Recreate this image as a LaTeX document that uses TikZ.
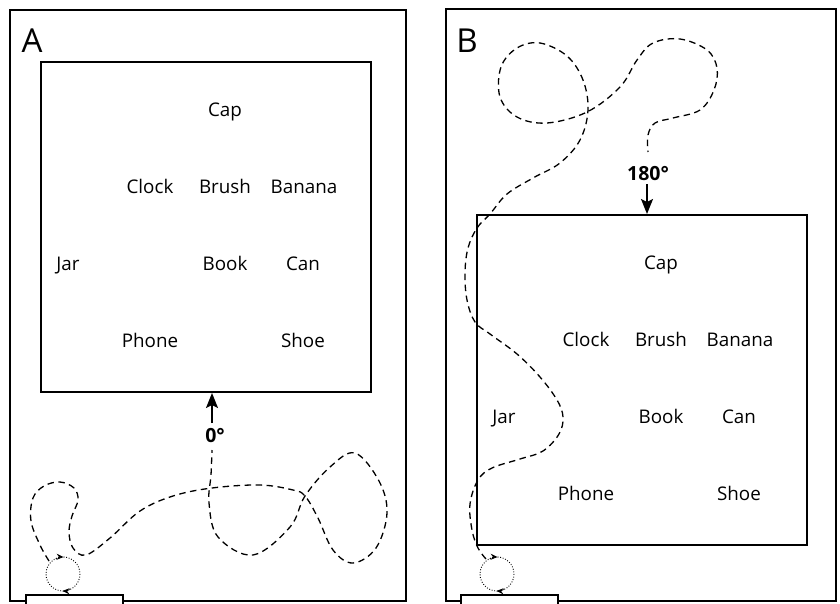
\documentclass[tikz,border=0pt]{standalone}
\usepackage{fontspec}
\setmainfont{Open Sans}
\usetikzlibrary{arrows.meta}
\begin{document}
\begin{tikzpicture}[x=1pt,y=-1pt,
  frame/.style={line width=1.1pt},
  lbl/.style={font=\fontsize{18.8}{21}\selectfont, anchor=base, inner sep=0pt},
  deglbl/.style={font=\fontsize{19.5}{21}\selectfont\bfseries, anchor=base, inner sep=0pt},
  panellbl/.style={font=\fontsize{33}{36}\selectfont, anchor=base, inner sep=0pt},
  walk/.style={line width=1.3pt, dash pattern=on 6.5pt off 4.5pt},
  loopc/.style={line width=0.9pt, dash pattern=on 0.9pt off 1.7pt},
  looptip/.style={-{Stealth[length=7pt,width=6pt]}, line width=0.9pt, dash pattern=on 0.9pt off 1.7pt},
  bigarrow/.style={-{Stealth[length=15pt,width=12pt,inset=3pt]}, line width=1.6pt}]
\useasboundingbox (0,0) rectangle (840,603);

% ---------- Panel A ----------
\draw[frame] (10,10) rectangle (406,601);
\fill[white] (26,595) rectangle (123,604);
\draw[frame] (26,604) -- (26,595) -- (123,595) -- (123,604);
\draw[frame] (41,62) rectangle (371,392);
\node[panellbl] (labA) at (32,52) {A};

\node[lbl] (capA)    at (225,116) {Cap};
\node[lbl] (clockA)  at (150,193) {Clock};
\node[lbl] (brushA)  at (225,193) {Brush};
\node[lbl] (bananaA) at (304,193) {Banana};
\node[lbl] (jarA)    at (68,270) {Jar};
\node[lbl] (bookA)   at (225,270) {Book};
\node[lbl] (canA)    at (303,270) {Can};
\node[lbl] (phoneA)  at (150,347) {Phone};
\node[lbl] (shoeA)   at (303,347) {Shoe};

\node[deglbl] (degA) at (215,442) {0°};
\coordinate (tailA) at (212,423);
\coordinate (tipA) at (212,393);
\draw[bigarrow] (tailA) -- (tipA);

\coordinate (loopA) at (63,574);
\draw[loopc] (loopA) circle (17);
\draw[looptip] (loopA) ++(245:17) arc (245:272:17);
\draw[looptip] (loopA) ++(65:17) arc (65:92:17);

\draw[walk] plot[smooth, tension=0.6] coordinates {
 (49,561) (40,545) (31,521) (33,498) (44,486) (60,482) (74,488) (78,500)
 (72,516) (69,532) (73,548) (86,555) (110,538) (140,511) (173,496) (212,488)
 (260,485) (293,490) (305,496) (318,518) (333,550) (353,563) (376,548) (387,513)
 (379,481) (355,453) (330,467) (305,496) (290,527) (253,555) (218,537) (209,503)
 (211,475) (212,450)};

% ---------- Panel B ----------
\draw[frame] (446,9) rectangle (836,601);
\fill[white] (461,595) rectangle (558,604);
\draw[frame] (461,604) -- (461,595) -- (558,595) -- (558,604);
\draw[frame] (477,215) rectangle (807,545);
\node[panellbl] (labB) at (467,52) {B};

\node[lbl] (capB)    at (661,269) {Cap};
\node[lbl] (clockB)  at (586,346) {Clock};
\node[lbl] (brushB)  at (661,346) {Brush};
\node[lbl] (bananaB) at (740,346) {Banana};
\node[lbl] (jarB)    at (504,423) {Jar};
\node[lbl] (bookB)   at (661,423) {Book};
\node[lbl] (canB)    at (739,423) {Can};
\node[lbl] (phoneB)  at (586,500) {Phone};
\node[lbl] (shoeB)   at (739,500) {Shoe};

\node[deglbl] (degB) at (648,180) {180°};
\coordinate (tailB) at (647,184);
\coordinate (tipB) at (647,214);
\draw[bigarrow] (tailB) -- (tipB);

\coordinate (loopB) at (497,574);
\draw[loopc] (loopB) circle (17);
\draw[looptip] (loopB) ++(245:17) arc (245:272:17);
\draw[looptip] (loopB) ++(65:17) arc (65:92:17);

\draw[walk] plot[smooth, tension=0.6] coordinates {
 (486,559) (478,548) (472,530) (470,504) (478,480) (492,468) (520,459) (543,451)
 (559,434) (563,417) (557,400) (540,377) (517,354) (490,334) (475,322) (467,300)
 (465,273) (468,248) (477,228) (490,214) (507,194) (533,178) (560,163) (580,140)
 (588,110) (583,80) (567,56) (540,43) (517,48) (501,67) (500,97) (517,117)
 (547,123) (587,112) (620,87) (637,60) (653,43) (680,39) (707,50) (717,68)
 (714,90) (700,110) (673,118) (655,123) (648,135) (648,152)};
\end{tikzpicture}
\end{document}
